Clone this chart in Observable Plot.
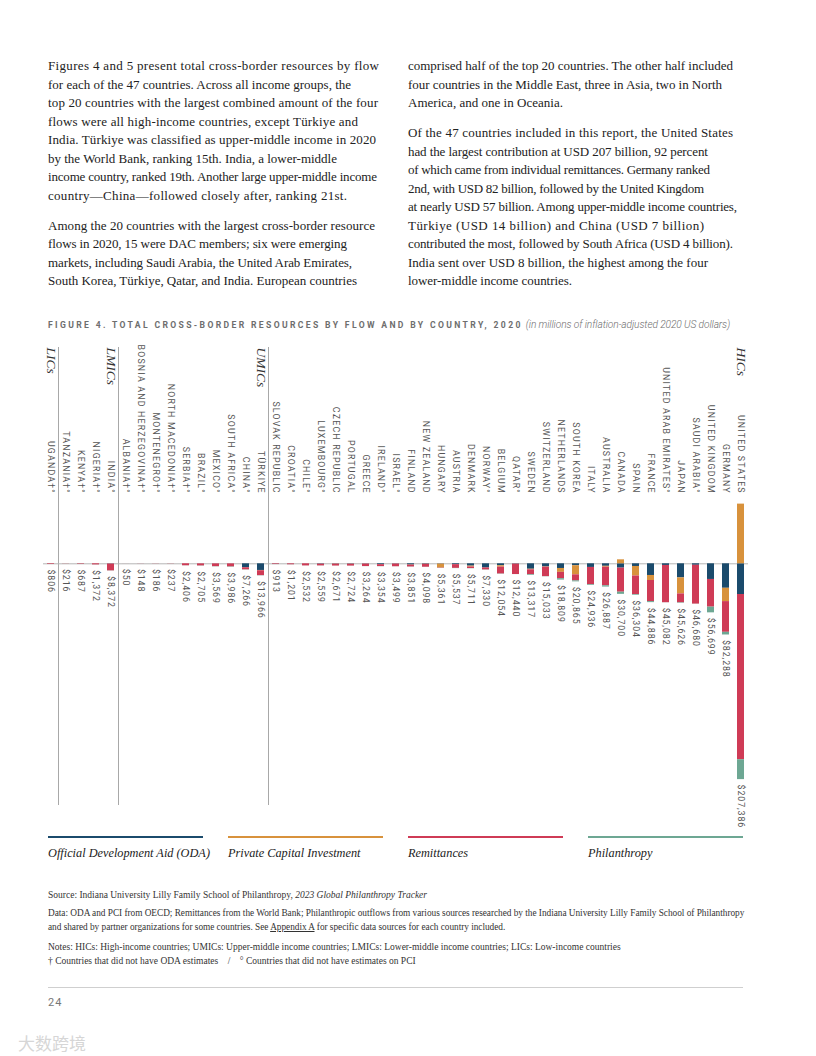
<!DOCTYPE html>
<html>
<head>
<meta charset="utf-8">
<script src="https://cdn.jsdelivr.net/npm/d3@7"></script>
<script src="https://cdn.jsdelivr.net/npm/@observablehq/plot@0.6"></script>
<style>
  html, body { margin: 0; padding: 0; background: #fff; }
  #page { position: relative; width: 816px; height: 1056px; overflow: hidden; background: #fff; }
  .col { position: absolute; font-family: "Liberation Serif", serif; font-size: 13px; line-height: 18.5px; color: #222; }
  .col .l { white-space: nowrap; }
  .col .p + .p { margin-top: 11.5px; }
  #caption { position: absolute; left: 48px; top: 313px; white-space: nowrap; font-family: Roboto, "Liberation Sans", sans-serif; color: #6e6e6e; }
  #caption .t { font-size: 8.6px; font-weight: 700; letter-spacing: 2.35px; }
  #caption .u { font-size: 10.2px; font-style: italic; font-weight: 300; letter-spacing: -0.1px; margin-left: 3px; }
  #chart { position: absolute; left: 40px; top: 340px; }
  .leg { position: absolute; top: 836px; width: 155px; }
  .leg .bar { height: 2px; }
  .leg .lab { margin-top: 8px; font-family: "Liberation Serif", serif; font-style: italic; font-size: 12.3px; color: #222; white-space: nowrap; }
  .notes { position: absolute; left: 48px; font-family: "Liberation Serif", serif; font-size: 9.5px; color: #333; line-height: 13.7px; white-space: nowrap; }
  #rule { position: absolute; left: 48px; top: 987px; width: 695px; height: 1px; background: #cfcfcf; }
  #pnum { position: absolute; left: 48px; top: 996px; font-family: Roboto, sans-serif; font-size: 11px; color: #777; letter-spacing: 1px; }
  #wm { position: absolute; left: 18px; top: 1030px; font-family: "Noto Sans CJK SC", sans-serif; font-size: 17px; color: #d6d6d6; }
</style>
</head>
<body>
<div id="page">
  <div class="col" style="left:48px; top:57px;">
    <div class="p">
      <div class="l" data-r="379">Figures 4 and 5 present total cross-border resources by flow</div>
      <div class="l" data-r="351">for each of the 47 countries. Across all income groups, the</div>
      <div class="l" data-r="378">top 20 countries with the largest combined amount of the four</div>
      <div class="l" data-r="358">flows were all high-income countries, except Türkiye and</div>
      <div class="l" data-r="376">India. Türkiye was classified as upper-middle income in 2020</div>
      <div class="l" data-r="337">by the World Bank, ranking 15th. India, a lower-middle</div>
      <div class="l" data-r="377">income country, ranked 19th. Another large upper-middle income</div>
      <div class="l" data-r="347">country—China—followed closely after, ranking 21st.</div>
    </div>
    <div class="p">
      <div class="l" data-r="375">Among the 20 countries with the largest cross-border resource</div>
      <div class="l" data-r="347">flows in 2020, 15 were DAC members; six were emerging</div>
      <div class="l" data-r="352">markets, including Saudi Arabia, the United Arab Emirates,</div>
      <div class="l" data-r="357">South Korea, Türkiye, Qatar, and India. European countries</div>
    </div>
  </div>
  <div class="col" style="left:408px; top:57px;">
    <div class="p">
      <div class="l" data-r="733">comprised half of the top 20 countries. The other half included</div>
      <div class="l" data-r="722">four countries in the Middle East, three in Asia, two in North</div>
      <div class="l" data-r="563">America, and one in Oceania.</div>
    </div>
    <div class="p">
      <div class="l" data-r="733">Of the 47 countries included in this report, the United States</div>
      <div class="l" data-r="708">had the largest contribution at USD 207 billion, 92 percent</div>
      <div class="l" data-r="710">of which came from individual remittances. Germany ranked</div>
      <div class="l" data-r="704">2nd, with USD 82 billion, followed by the United Kingdom</div>
      <div class="l" data-r="737">at nearly USD 57 billion. Among upper-middle income countries,</div>
      <div class="l" data-r="704">Türkiye (USD 14 billion) and China (USD 7 billion)</div>
      <div class="l" data-r="733">contributed the most, followed by South Africa (USD 4 billion).</div>
      <div class="l" data-r="708">India sent over USD 8 billion, the highest among the four</div>
      <div class="l" data-r="572">lower-middle income countries.</div>
    </div>
  </div>
  <div id="caption"><span class="t">FIGURE 4. TOTAL CROSS-BORDER RESOURCES BY FLOW AND BY COUNTRY, 2020</span><span class="u">(in millions of inflation-adjusted 2020 US dollars)</span></div>
  <div id="chart"></div>
  <div id="legend"></div>
  <div class="notes" style="top:889px;">Source: Indiana University Lilly Family School of Philanthropy, <i>2023 Global Philanthropy Tracker</i></div>
  <div class="notes" style="top:907px; font-size:9.3px; letter-spacing:-0.03px;">Data: ODA and PCI from OECD; Remittances from the World Bank; Philanthropic outflows from various sources researched by the Indiana University Lilly Family School of Philanthropy<br>and shared by partner organizations for some countries. See <u>Appendix A</u> for specific data sources for each country included.</div>
  <div class="notes" style="top:941px;">Notes: HICs: High-income countries; UMICs: Upper-middle income countries; LMICs: Lower-middle income countries; LICs: Low-income countries<br>† Countries that did not have ODA estimates &nbsp;&nbsp;&nbsp;/ &nbsp;&nbsp;&nbsp;° Countries that did not have estimates on PCI</div>
  <div id="rule"></div>
  <div id="pnum">24</div>
  <div id="wm">大数跨境</div>
</div>
<script>
// ---- data (millions of 2020 USD), left to right ----
const countries = ["UGANDA†°","TANZANIA†°","KENYA†°","NIGERIA†°","INDIA°","ALBANIA†°","BOSNIA AND HERZEGOVINA†°","MONTENEGRO†°","NORTH MACEDONIA†°","SERBIA†°","BRAZIL°","MEXICO°","SOUTH AFRICA°","CHINA°","TÜRKIYE","SLOVAK REPUBLIC","CROATIA°","CHILE°","LUXEMBOURG°","CZECH REPUBLIC","PORTUGAL","GREECE","IRELAND°","ISRAEL°","FINLAND","NEW ZEALAND","HUNGARY","AUSTRIA","DENMARK","NORWAY°","BELGIUM","QATAR°","SWEDEN","SWITZERLAND","NETHERLANDS","SOUTH KOREA","ITALY","AUSTRALIA","CANADA","SPAIN","FRANCE","UNITED ARAB EMIRATES°","JAPAN","SAUDI ARABIA°","UNITED KINGDOM","GERMANY","UNITED STATES"];
const oda          = [0,0,0,0,300, 0,0,0,0,0,100,100,100,4600,7700, 150,80,50,450,300,400,300,1000,300,1300,500,350,1000,2700,4800,2300,400,6300,3600,5400,2250,4200,2900,5000,3100,13500,1900,16300,1700,18100,28300,35500];
const pci          = [0,0,0,0,0, 0,0,0,0,0,0,0,0,0,300, 0,0,0,0,100,100,50,0,0,200,100,4500,0,1000,0,1500,0,600,300,4500,10500,0,1000,-4600,11000,5800,0,18500,0,0,15400,-69000];
const remittances  = [750,180,600,1300,7900, 40,120,160,200,2300,2400,3200,3500,2400,5700, 700,1050,2400,2000,2200,2150,2800,2200,3100,2200,3400,400,4300,1800,2300,8000,12000,5600,10900,7300,7000,19900,21500,27800,21400,24400,43100,10300,44900,32000,35500,191000];
const philanthropy = [56,36,87,72,172, 10,28,26,37,106,205,269,386,266,266, 63,71,82,109,71,74,114,154,99,151,98,111,237,211,230,254,40,817,233,1609,1115,836,1487,2500,804,1186,82,526,80,6599,3088,23000];
const totals       = [806,216,687,1372,8372, 50,148,186,237,2406,2705,3569,3986,7266,13966, 913,1201,2532,2559,2671,2724,3264,3354,3499,3851,4098,5361,5537,5711,7330,12054,12440,13317,15033,18809,20865,24936,26887,30700,36304,44886,45082,45626,46680,56699,82288,207386];

const flows  = ["Official Development Aid (ODA)", "Private Capital Investment", "Remittances", "Philanthropy"];
const colors = ["#1b4b6c", "#d8923c", "#cf3b56", "#6da793"];

const groupLabels    = ["LICs", "LMICs", "UMICs", "HICs"];
const groupAnchors   = ["UGANDA†°", "INDIA°", "TÜRKIYE", "UNITED STATES"];
const groupDividers  = ["TANZANIA†°", "ALBANIA†°", "SLOVAK REPUBLIC"];

// ---- fit paragraph lines to the reference's line lengths ----
document.querySelectorAll(".col").forEach(col => {
  const left = col.getBoundingClientRect().left;
  col.querySelectorAll(".l").forEach(el => {
    const r = document.createRange();
    r.selectNodeContents(el);
    const w = r.getBoundingClientRect().width;
    const target = +el.dataset.r - left;
    const n = el.textContent.length;
    el.style.letterSpacing = ((target - w) / Math.max(1, n - 1)).toFixed(3) + "px";
  });
});

// ---- tidy table ----
const series = [oda, pci, remittances, philanthropy];
const rows = [];
countries.forEach((c, i) => flows.forEach((f, j) => rows.push({country: c, flow: f, value: series[j][i]})));
const ends = countries.map((c, i) => ({
  country: c,
  pos: d3.sum(series, s => Math.max(0, s[i])),
  label: "$" + d3.format(",")(totals[i])
}));

// ---- chart ----
const k = 0.000865; // px per million
const frameH = 458, base = 216.3;
const chart = Plot.plot({
  width: 720, height: 485,
  marginTop: 7, marginBottom: 20, marginLeft: 3, marginRight: 12,
  x: {domain: countries, paddingInner: 0.55, paddingOuter: 0.275, axis: null},
  y: {domain: [-base / k, (frameH - base) / k], reverse: true, axis: null},
  color: {domain: flows, range: colors},
  style: {overflow: "visible", background: "transparent"},
  marks: [
    Plot.ruleX(groupDividers, {x: d => d, dx: -7.5, stroke: "#a8a8a8", strokeWidth: 1}),
    Plot.ruleY([0], {stroke: "#b5b5b5", strokeWidth: 1}),
    Plot.barY(rows, {x: "country", y: "value", fill: "flow"}),
    Plot.text(countries, {x: d => d, y: 0, dy: -70, text: d => d, rotate: 90, textAnchor: "end", lineAnchor: "middle",
      fontSize: 8.8, fontFamily: "Roboto, 'Liberation Sans', sans-serif", fill: "#555", ariaDescription: "names"}),
    Plot.text(ends, {x: "country", y: "pos", dy: 5, text: "label", rotate: 90, textAnchor: "start", lineAnchor: "middle",
      fontSize: 8.8, fontFamily: "Roboto, 'Liberation Sans', sans-serif", fill: "#555", ariaDescription: "totals"}),
    Plot.text(groupLabels, {x: (d, i) => groupAnchors[i], frameAnchor: "top", text: d => d, rotate: 90, textAnchor: "start", lineAnchor: "middle",
      fontSize: 13.5, fontStyle: "italic", fontFamily: "'Liberation Serif', serif", fill: "#333", ariaDescription: "groups"})
  ]
});
document.getElementById("chart").appendChild(chart);
// letter spacing for the rotated label groups (text marks in order: names, totals, groups)
const textGroups = chart.querySelectorAll('g[aria-label="text"]');
if (textGroups[0]) textGroups[0].style.letterSpacing = "1.2px";
if (textGroups[1]) textGroups[1].style.letterSpacing = "0.9px";

// ---- legend ----
const legend = document.getElementById("legend");
flows.forEach((f, i) => {
  const d = document.createElement("div");
  d.className = "leg";
  d.style.left = (48 + i * 180) + "px";
  d.innerHTML = `<div class="bar" style="background:${colors[i]}"></div><div class="lab">${f}</div>`;
  legend.appendChild(d);
});
</script>
</body>
</html>
